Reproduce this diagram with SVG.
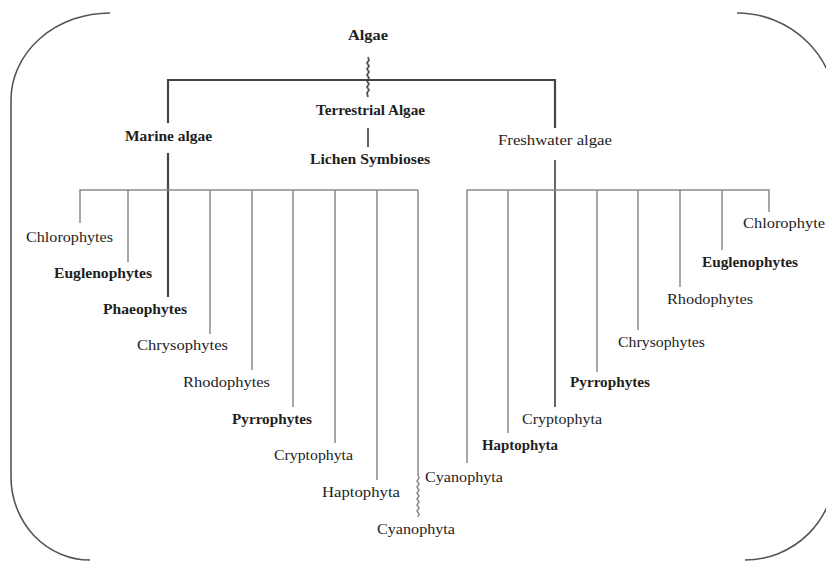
<svg xmlns="http://www.w3.org/2000/svg" width="826" height="561" viewBox="0 0 826 561">
<style>
.frame{fill:none;stroke:#555;stroke-width:1.6}
.main{fill:none;stroke:#444;stroke-width:2.2}
.mid{fill:none;stroke:#555;stroke-width:1.8}
.thin{fill:none;stroke:#8a8a8a;stroke-width:1.5}
text{font-family:"Liberation Serif","Times New Roman",serif;font-size:15px;fill:#1e1e1e}
.b{font-weight:bold}
</style>
<rect width="826" height="561" fill="#fff"/>
<g id="frame">
<path class="frame" d="M110,13 A99,87 0 0 0 11,100 L11,477 A79,83 0 0 0 90,560"/>
<path class="frame" d="M737,13 A100,100 0 0 1 837,113"/>
<path class="frame" d="M835,470 A90,90 0 0 1 745,560"/>
</g>
<g id="connectors">
<polyline class="mid" points="368,57 369,60 367,63 369,66 367,69 369,72 367,75 369,78 367,81 369,84 367,87 369,90 367,93 368,97"/>
<path class="main" d="M168,123 V80 H555 V128"/>
<path class="mid" d="M368,128 V147"/>
<path class="main" d="M168,153 V297"/>
<path class="mid" d="M555,160 V407"/>
<path class="thin" d="M80,223 V190 H418 M128,190 V262 M210,190 V334 M252,190 V370 M293,190 V407 M335,190 V443 M377,190 V480 M418,190 V475"/>
<polyline class="thin" points="418,475 419,478 417,481 419,484 417,487 419,490 417,493 419,496 417,499 419,502 417,505 419,508 417,511 419,514 418,517"/>
<path class="thin" d="M467,463 V190 H769 V212 M508,190 V433 M597,190 V372 M638,190 V330 M680,190 V287 M722,190 V250"/>
</g>
<g id="n-algae"><text class="b" x="348" y="40" textLength="40" lengthAdjust="spacingAndGlyphs">Algae</text></g>
<g id="n-marine"><text class="b" x="125" y="141" textLength="87" lengthAdjust="spacingAndGlyphs">Marine algae</text></g>
<g id="n-terrestrial"><text class="b" x="316" y="115" textLength="109" lengthAdjust="spacingAndGlyphs">Terrestrial Algae</text></g>
<g id="n-lichen"><text class="b" x="310" y="164" textLength="120" lengthAdjust="spacingAndGlyphs">Lichen Symbioses</text></g>
<g id="n-freshwater"><text x="498" y="145" textLength="114" lengthAdjust="spacingAndGlyphs">Freshwater algae</text></g>
<g id="m-chlorophytes"><text x="26" y="242" textLength="87" lengthAdjust="spacingAndGlyphs">Chlorophytes</text></g>
<g id="m-euglenophytes"><text class="b" x="54" y="278" textLength="98" lengthAdjust="spacingAndGlyphs">Euglenophytes</text></g>
<g id="m-phaeophytes"><text class="b" x="103" y="314" textLength="84" lengthAdjust="spacingAndGlyphs">Phaeophytes</text></g>
<g id="m-chrysophytes"><text x="137" y="350" textLength="91" lengthAdjust="spacingAndGlyphs">Chrysophytes</text></g>
<g id="m-rhodophytes"><text x="183" y="387" textLength="87" lengthAdjust="spacingAndGlyphs">Rhodophytes</text></g>
<g id="m-pyrrophytes"><text class="b" x="232" y="424" textLength="80" lengthAdjust="spacingAndGlyphs">Pyrrophytes</text></g>
<g id="m-cryptophyta"><text x="274" y="460" textLength="79" lengthAdjust="spacingAndGlyphs">Cryptophyta</text></g>
<g id="m-haptophyta"><text x="322" y="497" textLength="78" lengthAdjust="spacingAndGlyphs">Haptophyta</text></g>
<g id="m-cyanophyta"><text x="377" y="534" textLength="78" lengthAdjust="spacingAndGlyphs">Cyanophyta</text></g>
<g id="f-cyanophyta"><text x="425" y="482" textLength="78" lengthAdjust="spacingAndGlyphs">Cyanophyta</text></g>
<g id="f-haptophyta"><text class="b" x="482" y="450" textLength="76" lengthAdjust="spacingAndGlyphs">Haptophyta</text></g>
<g id="f-cryptophyta"><text x="522" y="424" textLength="80" lengthAdjust="spacingAndGlyphs">Cryptophyta</text></g>
<g id="f-pyrrophytes"><text class="b" x="570" y="387" textLength="80" lengthAdjust="spacingAndGlyphs">Pyrrophytes</text></g>
<g id="f-chrysophytes"><text x="618" y="347" textLength="87" lengthAdjust="spacingAndGlyphs">Chrysophytes</text></g>
<g id="f-rhodophytes"><text x="667" y="304" textLength="86" lengthAdjust="spacingAndGlyphs">Rhodophytes</text></g>
<g id="f-euglenophytes"><text class="b" x="702" y="267" textLength="96" lengthAdjust="spacingAndGlyphs">Euglenophytes</text></g>
<g id="f-chlorophyte"><text x="743" y="228" textLength="82" lengthAdjust="spacingAndGlyphs">Chlorophyte</text></g>
</svg>
